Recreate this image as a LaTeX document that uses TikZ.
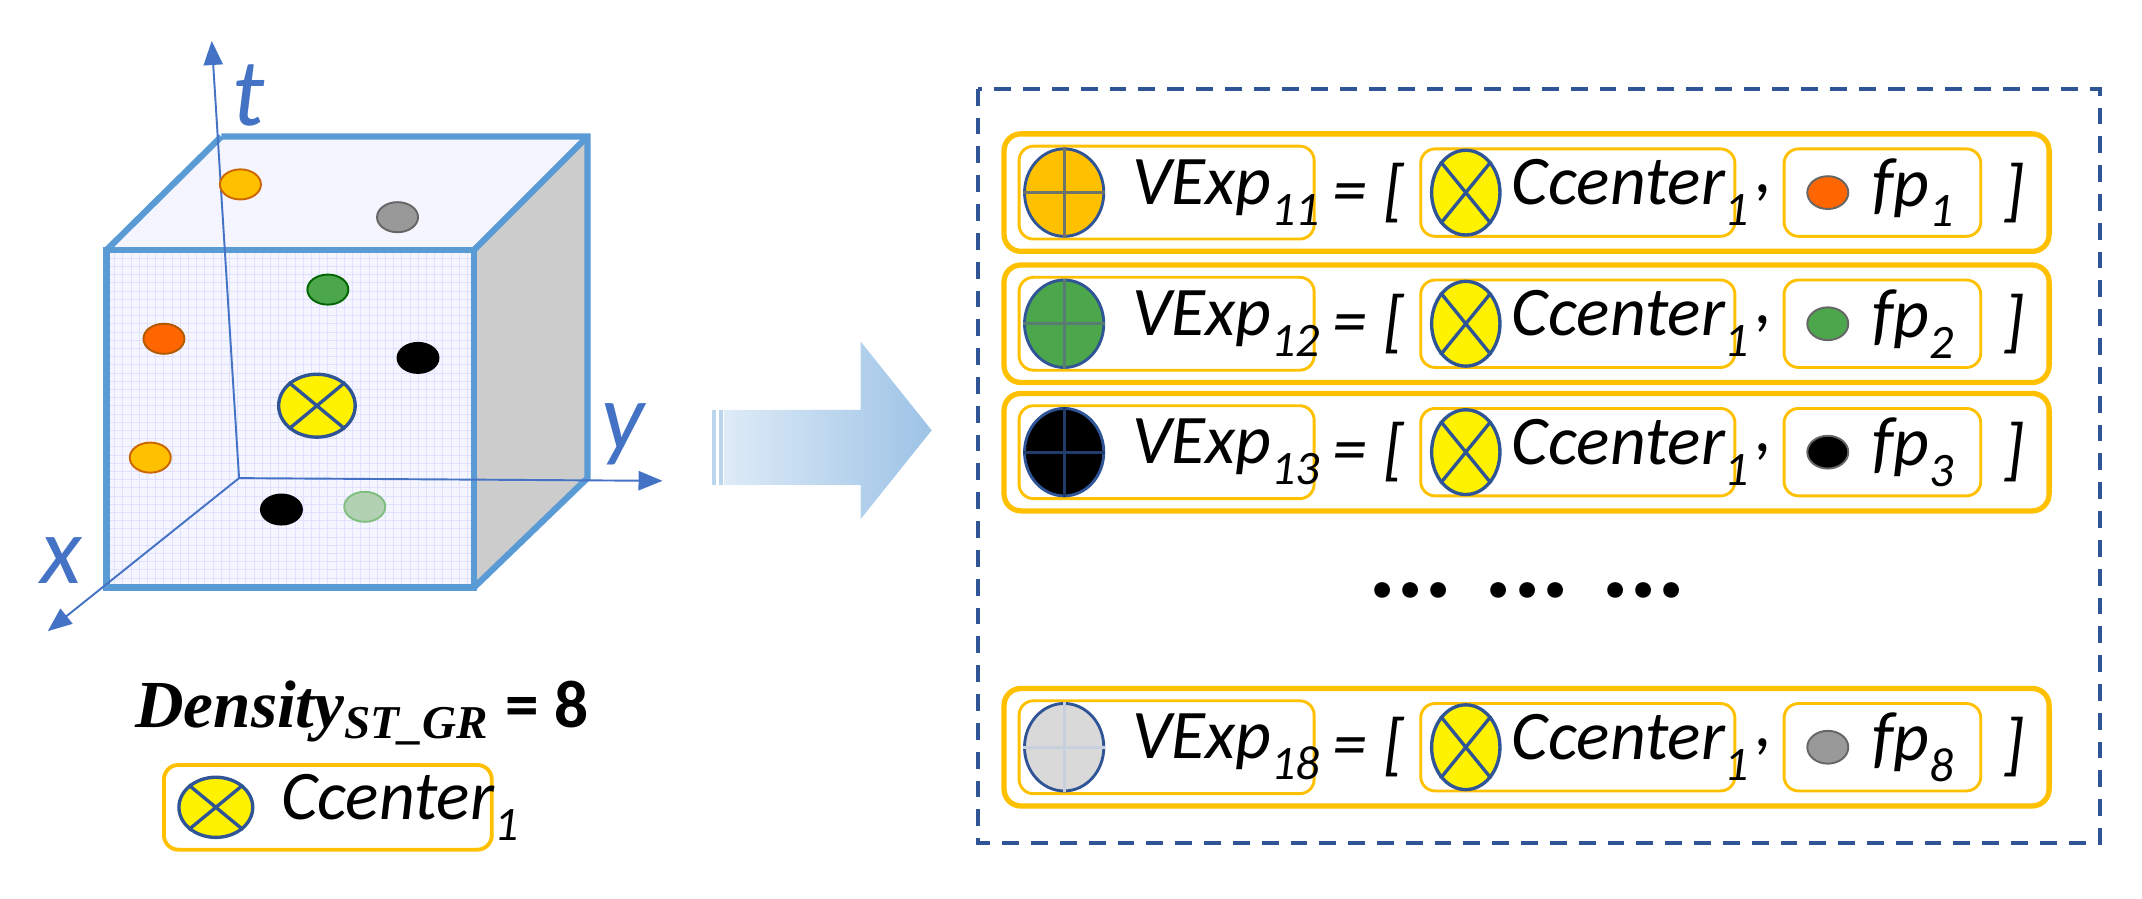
\documentclass[tikz,border=0pt]{standalone}
\usepackage{fontspec}
\setmainfont{Carlito}
\newfontfamily\mathish{Liberation Serif}
\usetikzlibrary{arrows.meta,shapes.geometric}
\definecolor{axblue}{RGB}{68,114,196}
\definecolor{cubeblue}{RGB}{91,155,213}
\definecolor{gold}{RGB}{255,192,0}
\definecolor{dkblue}{RGB}{47,85,151}
\definecolor{arrlight}{RGB}{222,235,247}
\definecolor{arrdark}{RGB}{157,195,230}
\tikzset{
  px/.style={x=0.01cm,y=-0.01cm},
  axis/.style={axblue,-{Triangle[length=5pt,width=4pt]},line width=0.4pt},
  edge/.style={cubeblue,line width=1.3pt},
  dot/.style={ellipse,draw,minimum width=0.30cm,minimum height=0.22cm,inner sep=0pt},
  obox/.style={draw=gold,line width=1.1pt,rounded corners=3.5pt},
  ibox/.style={draw=gold,line width=0.6pt,rounded corners=3pt},
  lab/.style={font=\itshape\fontsize{14.5}{14.5}\selectfont,anchor=west,inner sep=0pt},
}
\newcommand{\sub}[1]{\raisebox{-0.3em}{\fontsize{10}{10}\selectfont #1}}
\newcommand{\xmark}[3]{% yellow circle with a cross
  \node[ellipse,draw=dkblue,line width=0.7pt,fill=yellow,minimum width=#2,minimum height=#3,inner sep=0pt] (#1) {};
}
\begin{document}
\begin{tikzpicture}[px]
\useasboundingbox (0,0) rectangle (1568,658);

% cube faces
\fill[blue!4] (162,100) -- (430,100) -- (347,183) -- (78,183) -- cycle;
\fill[blue!4] (78,183) rectangle (347,430);
\fill[gray!40] (347,183) -- (430,100) -- (430,350) -- (347,430) -- cycle;
\draw[blue!12,line width=0.2pt,step=0.06cm,shift={(78,183)}] (0,0) grid (2.69cm,-2.47cm);
\draw[edge] (162,100) -- (430,100) -- (430,350) -- (347,430);
\draw[edge] (78,183) -- (162,100);
\draw[edge] (347,183) -- (430,100);
\draw[edge] (78,183) rectangle (347,430);

% axes
\coordinate (o) at (175,350);
\coordinate (tt) at (155,30);
\coordinate (ty) at (485,352);
\coordinate (tx) at (35,462);
\draw[axis] (o) -- (tt);
\draw[axis] (o) -- (ty);
\draw[axis] (o) -- (tx);
\node[axblue,font=\itshape\fontsize{20}{20}\selectfont] (lt) at (182,70) {t};
\node[axblue,font=\itshape\fontsize{20}{20}\selectfont] (ly) at (456,318) {y};
\node[axblue,font=\itshape\fontsize{20}{20}\selectfont] (lx) at (45,410) {x};

% points in the cube
\node[dot,draw=orange!80!black,fill=gold] (p1) at (176,135) {};
\node[dot,draw=gray!80!black,fill=gray!80] (p2) at (291,159) {};
\node[dot,draw=green!40!black,fill=green!50!black!70] (p3) at (240,212) {};
\node[dot,draw=orange!70!black,fill=orange!80!red] (p4) at (120,248) {};
\node[dot,draw=black,fill=black] (p5) at (306,262) {};
\node[dot,draw=orange!80!black,fill=gold] (p6) at (110,335) {};
\node[dot,draw=black,fill=black] (p7) at (206,373) {};
\node[dot,draw=green!50!black!50,fill=green!40!black!30] (p8) at (267,371) {};
\begin{scope}[shift={(232,297)}]
\xmark{cc}{0.56cm}{0.46cm}
\draw[dkblue,line width=0.7pt] (cc.north west) -- (cc.south east) (cc.north east) -- (cc.south west);
\end{scope}

% density label
\node[font=\bfseries\fontsize{14}{14}\selectfont] (dens) at (265,522)
  {{\mathish\bfseries\itshape Density\textsubscript{ST\_GR}} = 8};
\draw[ibox,line width=0.8pt] (120,560) rectangle (360,622);
\begin{scope}[shift={(158,591)}]
\xmark{lc}{0.54cm}{0.44cm}
\draw[dkblue,line width=0.7pt] (lc.north west) -- (lc.south east) (lc.north east) -- (lc.south west);
\end{scope}
\node[lab] (lcl) at (205,591) {Ccenter\sub{1}};

% big arrow
\shade[left color=arrlight,right color=arrdark]
  (530,300) -- (630,300) -- (630,250) -- (682,315) -- (630,380) -- (630,355) -- (530,355) -- cycle;
\foreach \s in {521,526} \fill[arrdark!70] (\s,300) rectangle ++(3,55);

% dashed frame
\draw[dkblue,line width=0.8pt,dash pattern=on 3.5pt off 2.5pt] (716,65) rectangle (1537,617);

% rows
\foreach \yc/\n/\fp/\col/\pcol in {141/11/1/gold/orange!80!red,
                                   237/12/2/green!50!black!70/green!50!black!70,
                                   331/13/3/black/black,
                                   547/18/8/gray!30/gray!80}{
  \draw[obox] (735,\yc-43) rectangle (1500,\yc+43);
  \draw[ibox] (746,\yc-34) rectangle (962,\yc+34);
  \draw[ibox] (1040,\yc-32) rectangle (1270,\yc+32);
  \draw[ibox] (1306,\yc-32) rectangle (1450,\yc+32);
  \node[ellipse,draw=dkblue,line width=0.6pt,fill=\col,minimum width=0.58cm,minimum height=0.64cm,inner sep=0pt] (v\n) at (779,\yc) {};
  \draw[dkblue!70!\col,line width=0.6pt] (v\n.north) -- (v\n.south) (v\n.west) -- (v\n.east);
  \node[lab] (t\n) at (828,\yc) {VExp\sub{\n}};
  \node[lab] (eq\n) at (975,\yc) {= [};
  \begin{scope}[shift={(1073,\yc)}]
  \xmark{c\n}{0.50cm}{0.62cm}
  \draw[dkblue,line width=0.7pt] (c\n.north west) -- (c\n.south east) (c\n.north east) -- (c\n.south west);
  \end{scope}
  \node[lab] (ct\n) at (1106,\yc) {Ccenter\sub{1}};
  \node[lab] (cm\n) at (1284,\yc) {,};
  \node[dot,minimum width=0.30cm,minimum height=0.24cm,draw=black!60,fill=\pcol] (f\n) at (1338,\yc) {};
  \node[lab] (ft\n) at (1370,\yc) {fp\sub{\fp}};
  \node[lab] (br\n) at (1466,\yc) {]};
}
\node[font=\bfseries\fontsize{22}{22}\selectfont] (more) at (1118,432) {... ... ...};
\end{tikzpicture}
\end{document}
